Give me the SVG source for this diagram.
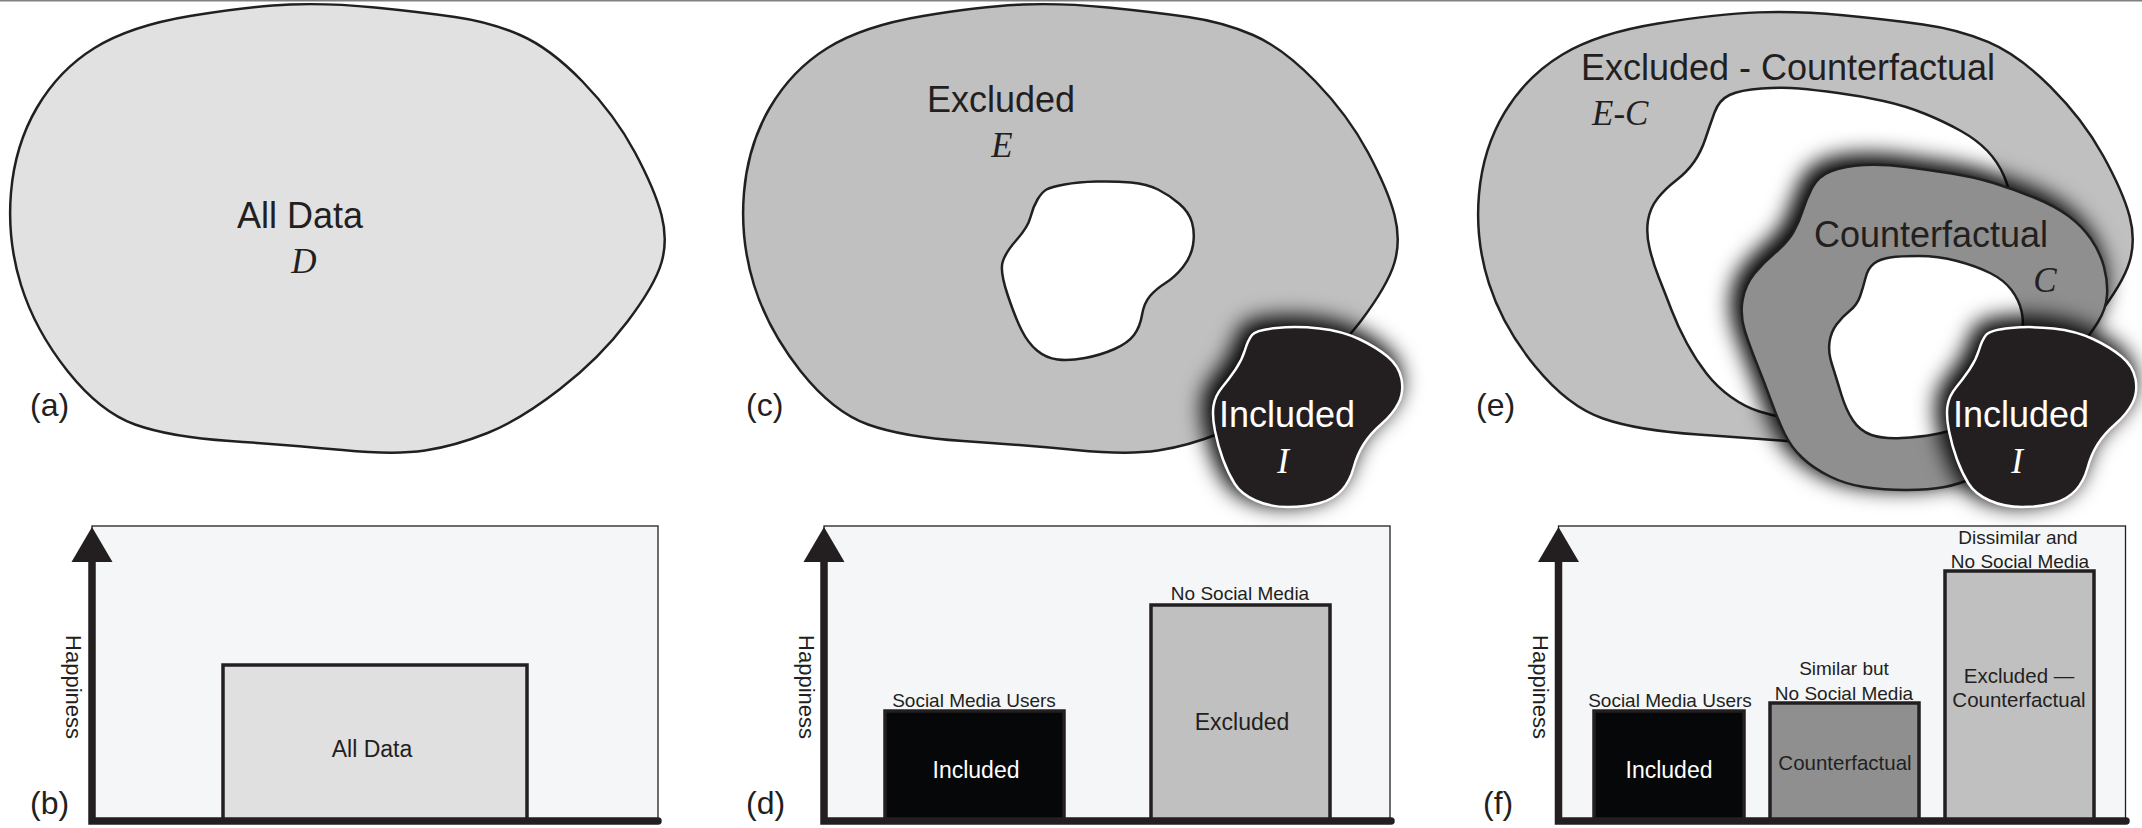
<svg xmlns="http://www.w3.org/2000/svg" xmlns:xlink="http://www.w3.org/1999/xlink" width="2142" height="828" viewBox="0 0 2142 828">
<style>
.blob{stroke:#231f20;stroke-width:2.5;stroke-linejoin:round}
.hole{fill:#ffffff;stroke:#231f20;stroke-width:2.5;stroke-linejoin:round}
.incl{fill:#231f20;stroke:#ffffff;stroke-width:2.5;stroke-linejoin:round}
.shadow{fill:#000;stroke:#000;stroke-width:10;stroke-linejoin:round;filter:url(#glow)}
.big{font-family:"Liberation Sans",Arial,sans-serif;font-size:36px;fill:#231f20;text-anchor:middle}
.math{font-family:"Liberation Serif","Times New Roman",serif;font-style:italic;font-size:35px;fill:#231f20;text-anchor:middle}
.lbl{font-family:"Liberation Sans",Arial,sans-serif;font-size:32px;fill:#231f20}
.panel{fill:#f5f6f8;stroke:#231f20;stroke-width:1.3}
.axis{fill:none;stroke:#231f20;stroke-width:7.5;stroke-linecap:round}
.arrow{fill:#231f20}
.bar{stroke:#231f20;stroke-width:3.5}
.small{font-family:"Liberation Sans",Arial,sans-serif;font-size:19px;fill:#231f20;text-anchor:middle}
.inbar{font-family:"Liberation Sans",Arial,sans-serif;font-size:23px;fill:#231f20;text-anchor:middle}
.hap{font-family:"Liberation Sans",Arial,sans-serif;font-size:22px;fill:#231f20;text-anchor:middle}
.white{fill:#ffffff}
</style>
<defs>
<filter id="glow" x="-35%" y="-35%" width="170%" height="170%"><feGaussianBlur stdDeviation="10.5"/><feOffset dx="-6" dy="-6"/></filter>
<path id="blobA" d="M37,107.5 Q59,70 94.5,48 Q130,26 190,16 Q250,6 290,4.5 Q330,3 375,7.5 Q420,12 455,17 Q490,22 520,35 Q550,48 582.5,81.5 Q615,115 635,152.5 Q655,190 661.5,215 Q668,240 661.5,262.5 Q655,285 627.5,321.5 Q600,358 560,389 Q520,420 487.5,433 Q455,446 425,450.5 Q395,455 342.5,450 Q290,445 230,441 Q170,437 135,424.5 Q100,412 67.5,371 Q35,330 21,285 Q7,240 11,192.5 Q15,145 37,107.5 Z"/>
<path id="inclShape" d="M1252,335 Q1256,330 1276.5,328 Q1297,326 1319.5,328.5 Q1342,331 1359,339 Q1376,347 1387.5,356.5 Q1399,366 1401.5,379 Q1404,392 1398.5,403 Q1393,414 1381.5,424 Q1370,434 1363.5,444.5 Q1357,455 1353.5,468 Q1350,481 1342,490 Q1334,499 1320,503 Q1306,507 1288,507 Q1270,507 1255.5,500.5 Q1241,494 1234.5,483.5 Q1228,473 1223,459.5 Q1218,446 1215,431 Q1212,416 1213.5,406 Q1215,396 1222,387.5 Q1229,379 1235.5,369.5 Q1242,360 1245,350 Q1248,340 1252,335 Z"/>
<path id="cfShape" d="M1802.5,211 Q1806,200 1812,188 Q1818,176 1831.5,171 Q1845,166 1864,165 Q1883,164 1906,167 Q1929,170 1951.5,173.5 Q1974,177 1993.5,183 Q2013,189 2034,197.5 Q2055,206 2068.5,216 Q2082,226 2091,239 Q2100,252 2104,267 Q2108,282 2107,295.5 Q2106,309 2098,322 Q2090,335 2065,367.5 Q2040,400 2015,435 Q1990,470 1975,477 Q1960,484 1944.5,487 Q1929,490 1906,490 Q1883,490 1864,487 Q1845,484 1829,476 Q1813,468 1802,457.5 Q1791,447 1784.5,433.5 Q1778,420 1771.5,402 Q1765,384 1757.5,365.5 Q1750,347 1745,331.5 Q1740,316 1742.5,300.5 Q1745,285 1754.5,273.5 Q1764,262 1776,252 Q1788,242 1793.5,232 Q1799,222 1802.5,211 Z"/>
<polygon id="arrowHead" points="0,0 -20.5,35 20.5,35"/>
</defs>

<rect x="0" y="0" width="2142" height="1.5" fill="#808080"/>

<!-- Panel (a) -->
<g id="node-all-data">
<use xlink:href="#blobA" href="#blobA" class="blob" fill="#e1e1e1"/>
<text class="big" x="300" y="228">All Data</text>
<text class="math" x="304" y="273">D</text>
</g>
<text class="lbl" x="30" y="416">(a)</text>

<!-- Panel (c) -->
<g id="node-excluded">
<use xlink:href="#blobA" href="#blobA" class="blob" fill="#c0c0c0" transform="translate(733,0)"/>
<path id="hole-c" class="hole" d="M1046.5,189.5 Q1042,192 1037.5,199.5 Q1033,207 1030.5,217 Q1028,227 1016.5,240 Q1005,253 1002.5,262.5 Q1000,272 1007.5,294.5 Q1015,317 1021.5,330 Q1028,343 1037,350.5 Q1046,358 1057.5,359.5 Q1069,361 1085,358 Q1101,355 1114.5,349 Q1128,343 1134,335 Q1140,327 1142,315 Q1144,303 1150,296 Q1156,289 1165.5,283 Q1175,277 1183,267 Q1191,257 1193,245 Q1195,233 1192,222.5 Q1189,212 1179,203.5 Q1169,195 1158,189.5 Q1147,184 1131,182.5 Q1115,181 1096.5,181.5 Q1078,182 1064.5,184.5 Q1051,187 1046.5,189.5 Z"/>
<text class="big" x="1001" y="112">Excluded</text>
<text class="math" x="1002" y="157">E</text>
</g>
<g id="node-included-c">
<use xlink:href="#inclShape" href="#inclShape" class="shadow"/>
<use xlink:href="#inclShape" href="#inclShape" class="incl"/>
<text class="big white" x="1287" y="427">Included</text>
<text class="math white" x="1283" y="473">I</text>
</g>
<text class="lbl" x="746" y="416">(c)</text>

<!-- Panel (e) -->
<g id="node-excluded-minus-cf">
<use xlink:href="#blobA" href="#blobA" class="blob" fill="#c0c0c0" transform="translate(1468,8) scale(1,0.967)"/>
<path id="hole-e" class="hole" d="M1714.5,112.5 Q1719,100 1729.5,95 Q1740,90 1761.5,88.5 Q1783,87 1799,88.5 Q1815,90 1838,93 Q1861,96 1883.5,101 Q1906,106 1925.5,114 Q1945,122 1961,131 Q1977,140 1987.5,151 Q1998,162 2004,176 Q2010,190 2015,215 Q2020,240 2000,285 Q1980,330 1930,365 Q1880,400 1840,410 Q1800,420 1787,418 Q1774,416 1759.5,411.5 Q1745,407 1731,397 Q1717,387 1706.5,373.5 Q1696,360 1687,343.5 Q1678,327 1671.5,310 Q1665,293 1659,278 Q1653,263 1649.5,248 Q1646,233 1648,220.5 Q1650,208 1657.5,198.5 Q1665,189 1676,180.5 Q1687,172 1694,162 Q1701,152 1705.5,138.5 Q1710,125 1714.5,112.5 Z"/>
<text class="big" x="1788" y="80">Excluded - Counterfactual</text>
<text class="math" x="1592" y="125" style="text-anchor:start">E-C</text>
</g>
<g id="node-counterfactual">
<use xlink:href="#cfShape" href="#cfShape" class="shadow"/>
<use xlink:href="#cfShape" href="#cfShape" class="blob" fill="#8f8f8f"/>
<path id="hole-cf" class="hole" d="M1865.5,278 Q1868,268 1874,263.5 Q1880,259 1890,257.5 Q1900,256 1919,256 Q1938,256 1957,261 Q1976,266 1990,273 Q2004,280 2011.5,290 Q2019,300 2021.5,311 Q2024,322 2022,333.5 Q2020,345 2010,372.5 Q2000,400 1982.5,412.5 Q1965,425 1956,428.5 Q1947,432 1933.5,434.5 Q1920,437 1901.5,438 Q1883,439 1871.5,435 Q1860,431 1853,420.5 Q1846,410 1841,393.5 Q1836,377 1832,364.5 Q1828,352 1829.5,342 Q1831,332 1836.5,324.5 Q1842,317 1849.5,311 Q1857,305 1860,296.5 Q1863,288 1865.5,278 Z"/>
<text class="big" x="1931" y="247">Counterfactual</text>
<text class="math" x="2045" y="292">C</text>
</g>
<g id="node-included-e">
<use xlink:href="#inclShape" href="#inclShape" class="shadow" transform="translate(734,0)"/>
<use xlink:href="#inclShape" href="#inclShape" class="incl" transform="translate(734,0)"/>
<text class="big white" x="2021" y="427">Included</text>
<text class="math white" x="2017" y="473">I</text>
</g>
<text class="lbl" x="1476" y="416">(e)</text>

<!-- Panel (b) -->
<g id="chart-b">
<rect class="panel" x="92" y="526" width="566" height="296"/>
<rect id="bar-all-data" class="bar" x="223" y="665" width="304" height="156" fill="#e0e0e0"/>
<text class="inbar" x="372" y="757">All Data</text>
<text class="hap" transform="translate(66,687) rotate(90)">Happiness</text>
</g>
<text class="lbl" x="30" y="814">(b)</text>

<!-- Panel (d) -->
<g id="chart-d">
<rect class="panel" x="824" y="526" width="566" height="296"/>
<g id="bar-d-included">
<rect class="bar" x="885" y="711" width="179" height="110" fill="#060709"/>
<text class="small" x="974" y="707">Social Media Users</text>
<text class="inbar white" x="976" y="778">Included</text>
</g>
<g id="bar-d-excluded">
<rect class="bar" x="1151" y="605" width="179" height="216" fill="#c0c0c0"/>
<text class="small" x="1240" y="600">No Social Media</text>
<text class="inbar" x="1242" y="730">Excluded</text>
</g>
<text class="hap" transform="translate(799,687) rotate(90)">Happiness</text>
</g>
<text class="lbl" x="746" y="814">(d)</text>

<!-- Panel (f) -->
<g id="chart-f">
<rect class="panel" x="1558.5" y="526" width="567" height="296"/>
<g id="bar-f-included">
<rect class="bar" x="1594" y="711" width="150" height="110" fill="#060709"/>
<text class="small" x="1670" y="707">Social Media Users</text>
<text class="inbar white" x="1669" y="778">Included</text>
</g>
<g id="bar-f-counterfactual">
<rect class="bar" x="1770" y="703" width="149" height="118" fill="#8f8f8f"/>
<text class="small" x="1844" y="675">Similar but</text>
<text class="small" x="1844" y="700">No Social Media</text>
<text class="inbar" x="1845" y="770" style="font-size:20.5px">Counterfactual</text>
</g>
<g id="bar-f-excluded-cf">
<rect class="bar" x="1945" y="571" width="149" height="250" fill="#c0c0c0"/>
<text class="small" x="2018" y="544">Dissimilar and</text>
<text class="small" x="2020" y="568">No Social Media</text>
<text class="inbar" x="2019" y="683" style="font-size:20.5px">Excluded —</text>
<text class="inbar" x="2019" y="707" style="font-size:20.5px">Counterfactual</text>
</g>
<text class="hap" transform="translate(1533,687) rotate(90)">Happiness</text>
</g>
<text class="lbl" x="1483" y="814">(f)</text>

<g id="axes">
<path class="axis" d="M92,558 V821 H658" style="stroke-linejoin:miter"/>
<use xlink:href="#arrowHead" href="#arrowHead" class="arrow" transform="translate(92,527)"/>
<path class="axis" d="M824,558 V821 H1391" style="stroke-linejoin:miter"/>
<use xlink:href="#arrowHead" href="#arrowHead" class="arrow" transform="translate(824,527)"/>
<path class="axis" d="M1558.5,558 V821 H2126" style="stroke-linejoin:miter"/>
<use xlink:href="#arrowHead" href="#arrowHead" class="arrow" transform="translate(1558.5,527)"/>
</g>
</svg>
